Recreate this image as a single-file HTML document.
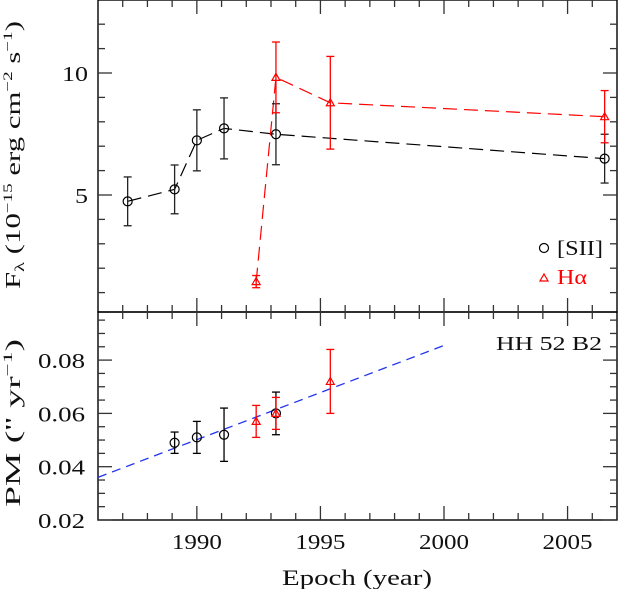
<!DOCTYPE html>
<html><head><meta charset="utf-8"><style>
body{margin:0;background:#fff}
svg{display:block;font-family:"Liberation Serif",serif}
</style></head><body>
<svg id="c" width="619" height="589" viewBox="0 0 619 589"></svg>
<script>
const siiYears=[1987.2,1989.1,1990.0,1991.1,1993.2,2006.5];
const siiFlux=[4.74,5.23,7.24,7.73,7.49,6.49];
const siiFluxErr=[1,1,1.25,1.25,1.25,1];
const haYears=[1992.4,1993.2,1995.4,2006.5];
const haFlux=[1.45,9.82,8.78,8.21];
const haFluxErr=[0.25,1.45,1.9,1.07];
const siiPmYears=[1989.1,1990.0,1991.1,1993.2];
const siiPm=[0.049,0.051,0.052,0.060];
const siiPmErr=[0.004,0.006,0.010,0.008];
const haPmYears=[1992.4,1993.2,1995.4];
const haPm=[0.057,0.060,0.072];
const haPmErr=[0.006,0.006,0.012];
const fitYears=[1986,2000];
const fitPm=[0.036,0.0855];
const xTicks=[1990,1995,2000,2005];
const fluxTicks=[5,10];
const pmTicks=[0.02,0.04,0.06,0.08];

const NS="http://www.w3.org/2000/svg";
const svg=document.getElementById('c');
const L=98,R=617,T1=0,B1=312,T2=312,B2=520;
const X0=1986,X1=2007;
const x=v=>L+(v-X0)/(X1-X0)*(R-L);
const yF=v=>195-(v-5)*24.4;
const yP=v=>B2-(v-0.02)/0.02*53.3;
function mk(t,a,p){const e=document.createElementNS(NS,t);for(const k in a)e.setAttribute(k,a[k]);(p||svg).appendChild(e);return e;}
function line(x1,y1,x2,y2,s,w,d){return mk('line',{x1,y1,x2,y2,stroke:s||'#000','stroke-width':w||1.3,'stroke-dasharray':d||'none'});}
function txt(s,xx,yy,anchor,size,fill,len){const a={x:xx,y:yy,'text-anchor':anchor||'middle','font-size':size||19,fill:fill||'#111'};if(len){a.textLength=len;a.lengthAdjust='spacingAndGlyphs';}const e=mk('text',a);e.textContent=s;return e;}

const f1=mk('rect',{x:L,y:T1,width:R-L,height:B1-T1,fill:'none',stroke:'#000','stroke-width':1.4});

const f2=mk('rect',{x:L,y:T2,width:R-L,height:B2-T2,fill:'none',stroke:'#000','stroke-width':1.4});


for(let yr=1987;yr<=2006;yr++){
  const maj=yr%5===0, len=maj?14:7, xx=x(yr);
  [[B1,T1],[B2,T2]].forEach(([b,t])=>{line(xx,b,xx,b-len,'#333');line(xx,t,xx,t+len,'#333');});
}
xTicks.forEach(v=>{const t=txt(String(v),x(v),549,'middle',21,'#111',50);});
for(let v=1;v<=13;v++){const len=v%5===0?14:7,yy=yF(v);if(yy<T1||yy>B1)continue;line(L,yy,L+len,yy,'#333');line(R,yy,R-len,yy,'#333');}
fluxTicks.forEach(v=>{const t=txt(String(v),88,yF(v)+8,'end',21,'#111',v>=10?26:13);});
for(let i=0;i<=15;i++){const v=0.02+i*0.005;const yy=yP(v);if(yy<T2+1)continue;const len=(i%4===0)?14:7;line(L,yy,L+len,yy,'#333');line(R,yy,R-len,yy,'#333');}
pmTicks.forEach(v=>{const t=txt(v.toFixed(2),85,yP(v)+8,'end',21,'#111',47);});

const yt1=txt('',20,155,'middle',21);yt1.setAttribute('transform','rotate(-90 20 155)');
yt1.setAttribute('textLength','268');yt1.setAttribute('lengthAdjust','spacingAndGlyphs');
yt1.innerHTML='F<tspan font-size="14" dy="4">λ</tspan><tspan dy="-4"> (10</tspan><tspan font-size="13" dy="-8">−15</tspan><tspan dy="8"> erg cm</tspan><tspan font-size="13" dy="-8">−2</tspan><tspan dy="8"> s</tspan><tspan font-size="13" dy="-8">−1</tspan><tspan dy="8">)</tspan>';

const yt2=txt('',20,423,'middle',21);yt2.setAttribute('transform','rotate(-90 20 423)');
yt2.setAttribute('textLength','168');yt2.setAttribute('lengthAdjust','spacingAndGlyphs');
yt2.innerHTML='PM (\'\'  yr<tspan font-size="13" dy="-8">−1</tspan><tspan dy="8">)</tspan>';

const xt=txt('Epoch (year)',357,585,'middle',22,'#111',150);

function errbar(xx,y0,y1,col){line(xx,y0,xx,y1,col,1.3);line(xx-4,y0,xx+4,y0,col,1.3);line(xx-4,y1,xx+4,y1,col,1.3);}
function circ(xx,yy,col){return mk('circle',{cx:xx,cy:yy,r:4.5,fill:'none',stroke:col,'stroke-width':1.2});}
function tri(xx,yy,col){return mk('path',{d:`M${xx-4},${yy+3} L${xx+4},${yy+3} L${xx},${yy-4} Z`,fill:'none',stroke:col,'stroke-width':1.2});}
function polyline(xs,ys,col,dash,w){return mk('polyline',{points:xs.map((v,i)=>v+','+ys[i]).join(' '),fill:'none',stroke:col,'stroke-width':w||1.2,'stroke-dasharray':dash});}

const l1=polyline(siiYears.map(x),siiFlux.map(yF),'#000','14 7');
const l2=polyline(haYears.map(x),haFlux.map(yF),'#f00','14 7');
siiYears.forEach((v,i)=>{errbar(x(v),yF(siiFlux[i]-siiFluxErr[i]),yF(siiFlux[i]+siiFluxErr[i]),'#222');const c=circ(x(v),yF(siiFlux[i]),'#000');});
haYears.forEach((v,i)=>{errbar(x(v),yF(haFlux[i]-haFluxErr[i]),yF(haFlux[i]+haFluxErr[i]),'#f00');const c=tri(x(v),yF(haFlux[i]),'#f00');});

const fl=polyline(fitYears.map(x),fitPm.map(yP),'#2233ee','9 6',1.3);
siiPmYears.forEach((v,i)=>{errbar(x(v),yP(siiPm[i]-siiPmErr[i]),yP(siiPm[i]+siiPmErr[i]),'#000');const c=circ(x(v),yP(siiPm[i]),'#000');});
haPmYears.forEach((v,i)=>{errbar(x(v),yP(haPm[i]-haPmErr[i]),yP(haPm[i]+haPmErr[i]),'#f00');const c=tri(x(v),yP(haPm[i]),'#f00');});

const lc=circ(544,248,'#000');
const ls=txt('[SII]',557,255,'start',21,'#111',46);
const lt=tri(544,278,'#f00');
const lh=txt('Hα',557,284,'start',21,'#f00',30);
const hh=txt('HH 52 B2',602,350,'end',20,'#111',106);
</script>
</body></html>
